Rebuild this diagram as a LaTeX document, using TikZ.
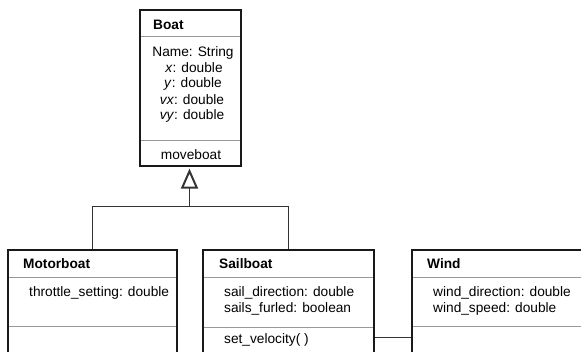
\documentclass[tikz,border=0pt]{standalone}
\usepackage{fontspec}
\setmainfont{Liberation Sans}
\usetikzlibrary{arrows.meta}
\begin{document}
\begin{tikzpicture}[x=1pt,y=-1pt,
  umlbox/.style={draw=black!90, line width=2.2pt, rectangle, inner sep=0pt},
  divider/.style={draw=black!40, line width=0.8pt},
  link/.style={draw=black!80, line width=1pt},
  title/.style={font=\bfseries\fontsize{13.7}{16}\selectfont, anchor=west, inner sep=0pt},
  attr/.style={font=\fontsize{13.7}{16}\selectfont, inner sep=0pt},
  attrl/.style={attr, anchor=west}]
\useasboundingbox (0,0) rectangle (581,352);
\clip (0,0) rectangle (581,352);
% dividers
\draw[divider] (140,36) -- (241,36);
\draw[divider] (140,140) -- (241,140);
\draw[divider] (8,277) -- (177,277);
\draw[divider] (8,326) -- (177,326);
\draw[divider] (203,277) -- (374,277);
\draw[divider] (203,327) -- (374,327);
\draw[divider] (412,277) -- (600,277);
\draw[divider] (412,326) -- (600,326);
% boxes
\node[umlbox, minimum width=101pt, minimum height=156pt] (boat) at (190.5,88) {};
\node[umlbox, minimum width=169pt, minimum height=120pt] (motor) at (92.5,310) {};
\node[umlbox, minimum width=171pt, minimum height=120pt] (sail) at (288.5,310) {};
\node[umlbox, minimum width=188pt, minimum height=120pt] (wind) at (506,310) {};
% texts
\node[title] (tboat) at (153,25) {Boat};
\node[attr] (a1) at (193,52.5) {Name: String};
\node[attr] (a2) at (194,68) {\textit{x}: double};
\node[attr] (a3) at (193,84) {\textit{y}: double};
\node[attr] (a4) at (192,100) {\textit{vx}: double};
\node[attr] (a5) at (192,116) {\textit{vy}: double};
\node[attr] (m1) at (191,155) {moveboat};
\node[title] (tmotor) at (23,264) {Motorboat};
\node[attrl] (b1) at (29,293) {throttle\_setting: double};
\node[title] (tsail) at (219,264) {Sailboat};
\node[attrl] (c1) at (224,293) {sail\_direction: double};
\node[attrl] (c2) at (224,309) {sails\_furled: boolean};
\node[attrl] (c3) at (224,340) {set\_velocity( )};
\node[title] (twind) at (427,264) {Wind};
\node[attrl] (d1) at (433,293) {wind\_direction: double};
\node[attrl] (d2) at (433,309) {wind\_speed: double};
% connectors
\coordinate (j) at (189.5,207);
\coordinate (as) at (0,338);
\draw[link, shorten >=1.5pt, -{Triangle[open, length=20pt, width=17pt, line width=2pt]}] (j) -- (boat.south -| j);
\draw[link] (motor.north) -- (motor.north |- j) -- (sail.north |- j) -- (sail.north);
\draw[link] (sail.east |- as) -- (wind.west |- as);
\end{tikzpicture}
\end{document}
